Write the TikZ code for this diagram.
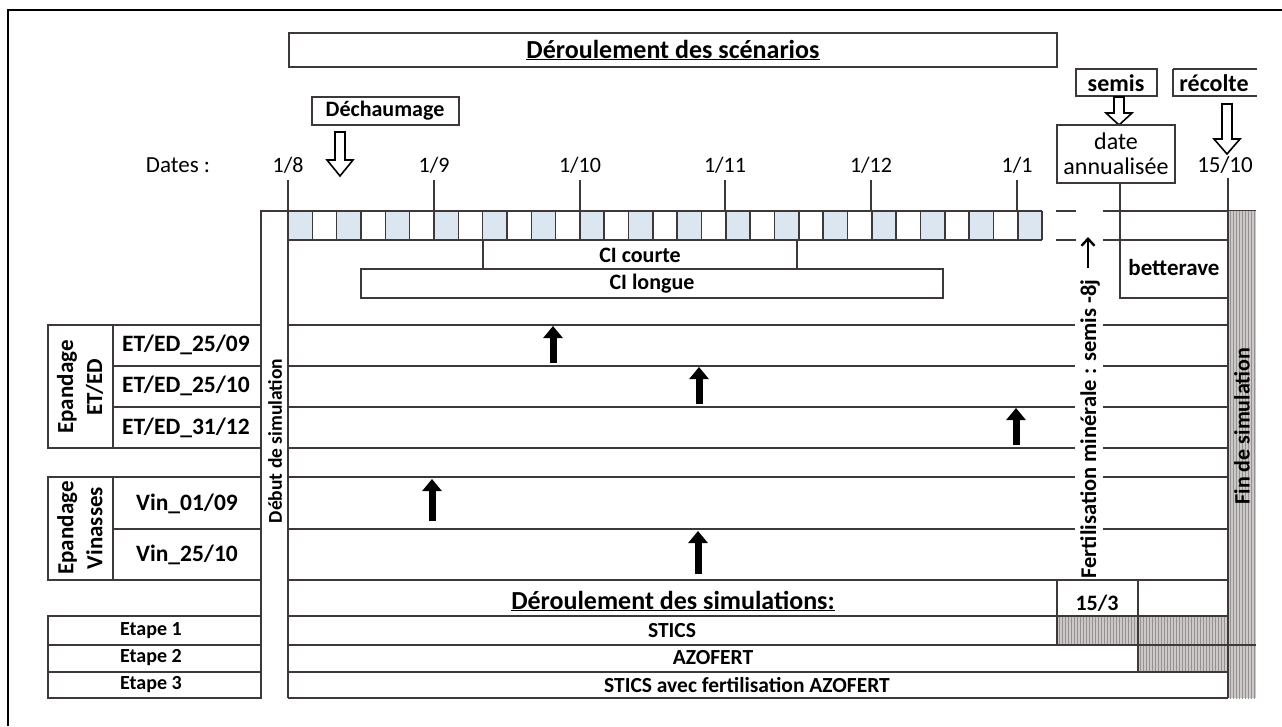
\documentclass[tikz,border=0pt]{standalone}
\usepackage{fontspec}
\setmainfont{Carlito}
\usepackage{tikz}
\usetikzlibrary{arrows.meta,patterns}
\definecolor{cellblue}{HTML}{DCE6F1}
\definecolor{rulegray}{HTML}{3F3838}
\definecolor{hatchgray}{HTML}{B8B0B0}

\tikzset{
  grid line/.style={draw=rulegray, line width=1.6pt},
  lab/.style={font=\fontsize{22}{28}\selectfont\bfseries, inner sep=0pt},
  rowlab/.style={lab, font=\fontsize{23.5}{28}\selectfont\bfseries},
  steplab/.style={lab, font=\fontsize{20}{24}\selectfont\bfseries},
  simlab/.style={lab, font=\fontsize{21.5}{25}\selectfont\bfseries},
  headlab/.style={lab, font=\fontsize{26}{30}\selectfont\bfseries},
  datelab/.style={font=\fontsize{22}{25}\selectfont, inner sep=0pt},
  hatched/.style={fill=hatchgray!70, postaction={pattern=vertical lines, pattern color=rulegray!55}},
  event/.style={line width=7pt, -{Triangle[width=19pt,length=12pt]}},
}
% hollow arrow pointing down: x, top, start of head, tip
\newcommand{\hollowdown}[4]{%
  \draw[grid line, draw=black, fill=white, line join=miter]
    (#1-5,#2) -- (#1+5,#2) -- (#1+5,#3) -- (#1+13,#3) -- (#1,#4)
    -- (#1-13,#3) -- (#1-5,#3) -- cycle;}

\begin{document}
\begin{tikzpicture}[x=1pt,y=-1pt]
  \useasboundingbox (0,0) rectangle (1282,726);
  \draw[black, line width=1.8pt] (8,726) -- (8,10) -- (1282,10);

  % headings
  \draw[grid line] (289,33) rectangle (1057,67);
  \node[headlab] (scen) at (673,50) {\underline{Déroulement des scénarios}};
  \draw[grid line] (312,97) rectangle (459,125);
  \node[lab] (dech) at (385,111) {Déchaumage};
  \hollowdown{340}{132}{160}{176}
  \draw[grid line] (1076,69) rectangle (1157,96);
  \node[lab, font=\fontsize{24}{28}\selectfont\bfseries] (semis) at (1116,83) {semis};
  \draw[grid line] (1173,69) -- (1257,69) (1173,69) -- (1173,96) -- (1257,96);
  \node[lab, font=\fontsize{24}{28}\selectfont\bfseries] (recolte) at (1214,83) {récolte};
  \hollowdown{1119}{97}{113}{125}
  \hollowdown{1227}{104}{139}{154}
  \draw[grid line] (1057,125) rectangle (1175,183);
  \node[datelab, font=\fontsize{24}{25}\selectfont, align=center] (annual) at (1116,154) {date\\annualisée};

  % dates and ticks
  \node[datelab, font=\fontsize{23}{25}\selectfont] (dates) at (178,165) {Dates :};
  \foreach \x/\d in {288/{1/8}, 434/{1/9}, 580/{1/10}, 725/{1/11}, 871/{1/12}, 1017/{1/1}}
    \node[datelab] (d\x) at (\x,165) {\d};
  \node[datelab, font=\fontsize{23}{25}\selectfont] (d1228) at (1225,165) {15/10};
  \foreach \x in {434,580,725,871,1017}
    \draw[grid line] (\x,180) -- (\x,211);
  \draw[grid line] (1120,183) -- (1120,298);

  % five-day cells
  \foreach \i in {0,2,...,30}
    \fill[cellblue] (288+24.33*\i,211) rectangle ++(24.33,29);
  \foreach \i in {0,...,31}
    \draw[grid line] (288+24.33*\i,211) -- ++(0,29);
  \draw[grid line] (261,698) -- (261,211) -- (1042,211);
  \draw[grid line] (288,240) -- (1042,240);
  \draw[grid line] (1056,211) -- (1076,211) (1056,240) -- (1076,240);
  \draw[grid line] (1103,211) -- (1256,211) (1103,240) -- (1228,240);

  % cover crops and crop
  \draw[grid line] (483,240) rectangle (797,269);
  \node[lab] (cicourte) at (640,255) {CI courte};
  \draw[grid line, fill=white] (361,269) rectangle (943,298);
  \node[lab] (cilongue) at (652,284) {CI longue};
  \draw[grid line] (1120,240) rectangle (1228,298);
  \node[lab, font=\fontsize{23}{28}\selectfont\bfseries] (bett) at (1174,268) {betterave};

  % hatched ends
  \path[hatched] (1228,211) rectangle (1256,698);
  \path[hatched] (1057,616) rectangle (1228,645);
  \path[hatched] (1138,645) rectangle (1228,672);

  % scenario rows
  \foreach \y in {325,366,407,448,477,529} {
    \draw[grid line] (288,\y) -- (1075,\y);
    \draw[grid line] (1103,\y) -- (1228,\y);
  }
  \draw[grid line] (288,180) -- (288,698);
  \draw[grid line] (1228,178) -- (1228,698);
  \draw[grid line] (288,580) -- (1228,580);
  \draw[grid line] (1057,580) -- (1057,645) (1138,580) -- (1138,672);
  \draw[grid line] (288,616) -- (1228,616) (288,645) -- (1256,645)
    (288,672) -- (1228,672) (288,698) -- (1228,698);

  % left labels
  \draw[grid line] (48,325) rectangle (261,448) (113,325) -- (113,448)
    (113,366) -- (261,366) (113,407) -- (261,407);
  \draw[grid line] (48,477) rectangle (261,580) (113,477) -- (113,580)
    (113,529) -- (261,529);
  \draw[grid line] (48,616) rectangle (261,698) (48,645) -- (261,645)
    (48,672) -- (261,672);
  \node[lab, font=\fontsize{23}{29}\selectfont\bfseries, rotate=90, align=center] (grpet) at (80,387) {Epandage\\ET/ED};
  \node[lab, font=\fontsize{23}{29}\selectfont\bfseries, rotate=90, align=center] (grpvin) at (80,528) {Epandage\\Vinasses};
  \node[rowlab] (et1) at (186,345) {ET/ED\_25/09};
  \node[rowlab] (et2) at (186,386) {ET/ED\_25/10};
  \node[rowlab] (et3) at (186,428) {ET/ED\_31/12};
  \node[rowlab] (vin1) at (187,504) {Vin\_01/09};
  \node[rowlab] (vin2) at (187,555) {Vin\_25/10};
  \node[steplab] (et1s) at (151,631) {Etape 1};
  \node[steplab] (et2s) at (151,658) {Etape 2};
  \node[steplab] (et3s) at (151,685) {Etape 3};

  % simulations
  \node[headlab] (simul) at (673,601) {\underline{Déroulement des simulations:}};
  \node[lab] (mars) at (1097,603) {15/3};
  \node[simlab] (stics) at (672,631) {STICS};
  \node[simlab] (azo) at (713,658) {AZOFERT};
  \node[simlab] (sticsazo) at (747,685) {STICS avec fertilisation AZOFERT};

  % vertical texts
  \node[lab, font=\fontsize{19.5}{22}\selectfont\bfseries, rotate=90] (debut) at (275,441) {Début de simulation};
  \node[lab, font=\fontsize{22.5}{28}\selectfont\bfseries, rotate=90] (fertil) at (1090,429) {Fertilisation minérale : semis -8j};
  \node[lab, rotate=90] (fin) at (1242,426) {Fin de simulation};
  \draw[line width=2.4pt, -{Straight Barb[length=7pt,width=13pt]}] (1088,268) -- (1088,237);

  % spreading dates
  \draw[event] (553,363) -- (553,326);
  \draw[event] (699,404) -- (699,367);
  \draw[event] (1016,445) -- (1016,408);
  \draw[event] (432,521) -- (432,479);
  \draw[event] (698,574) -- (698,531);
\end{tikzpicture}
\end{document}
